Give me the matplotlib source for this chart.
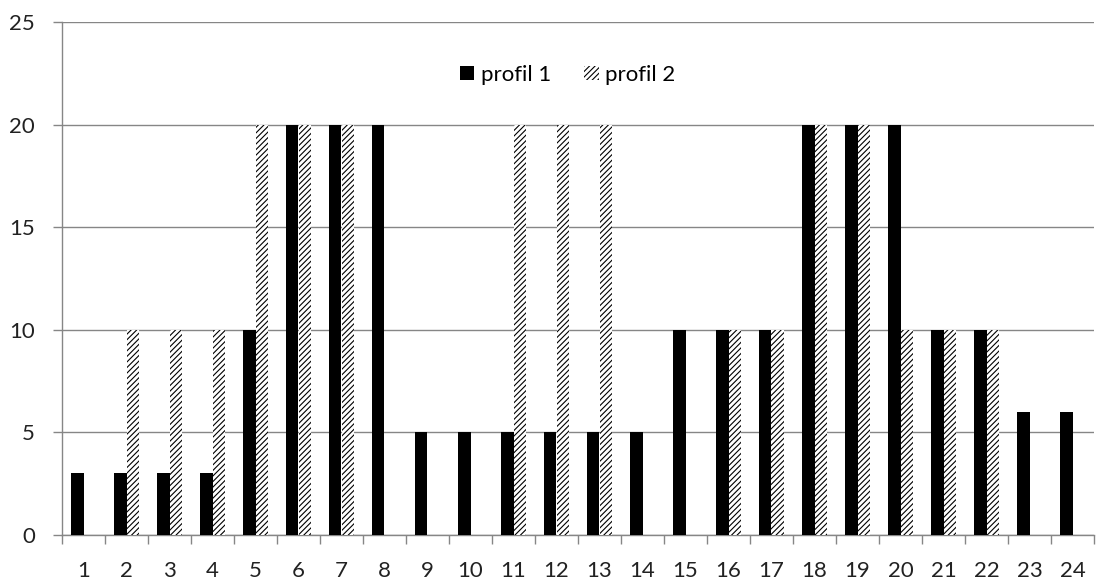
import matplotlib
matplotlib.use("Agg")
import matplotlib.pyplot as plt
import numpy as np

categories = [str(i) for i in range(1, 25)]
profil_1 = [3, 3, 3, 3, 10, 20, 20, 20, 5, 5, 5, 5, 5, 5, 10, 10, 10, 20, 20, 20, 10, 10, 6, 6]
profil_2 = [0, 10, 10, 10, 20, 20, 20, 0, 0, 0, 20, 20, 20, 0, 0, 10, 10, 20, 20, 10, 10, 10, 0, 0]
y_ticks = [0, 5, 10, 15, 20, 25]

plt.rcParams['font.family'] = ['Lato', 'DejaVu Sans']
plt.rcParams['hatch.linewidth'] = 0.8
plt.rcParams['hatch.color'] = 'black'

fig = plt.figure(figsize=(11.02, 5.8), dpi=100)
ax = fig.add_axes([62 / 1102, 45 / 580, (1094 - 62) / 1102, (535 - 22) / 580])

x = np.arange(len(categories))
w = 0.3
ax.bar(x - w / 2, profil_1, width=w, color='black', linewidth=0, label='profil 1', zorder=3)
ax.bar(x + w / 2, profil_2, width=w, color='white', edgecolor='black', linewidth=0,
       hatch='//////', label='profil 2', zorder=3)

ax.set_xlim(-0.5, len(categories) - 0.5)
ax.set_ylim(0, 25)
ax.set_yticks(y_ticks)
ax.set_xticks(x)
ax.set_xticklabels(categories)
ax.set_xticks(np.arange(-0.5, len(categories), 1), minor=True)

ax.yaxis.grid(True, color='#868686', linewidth=1.0, zorder=0)
ax.set_axisbelow(True)
for side in ['top', 'right']:
    ax.spines[side].set_visible(False)
for side in ['left', 'bottom']:
    ax.spines[side].set_color('#868686')
    ax.spines[side].set_linewidth(1.0)

ax.tick_params(axis='x', which='major', length=0, pad=19, labelsize=16, colors='#222222')
ax.tick_params(axis='x', which='minor', length=6.5, color='#868686', width=1.0)
ax.tick_params(axis='y', length=6.5, color='#868686', width=1.0, labelsize=16, pad=13,
               labelcolor='#222222')

ax.legend(loc='center', bbox_to_anchor=(0.49, 0.897), ncol=2, frameon=False,
          fontsize=16, handlelength=0.65, handleheight=0.65, handletextpad=0.3,
          columnspacing=1.5)

fig.savefig('out.png', dpi=100)
